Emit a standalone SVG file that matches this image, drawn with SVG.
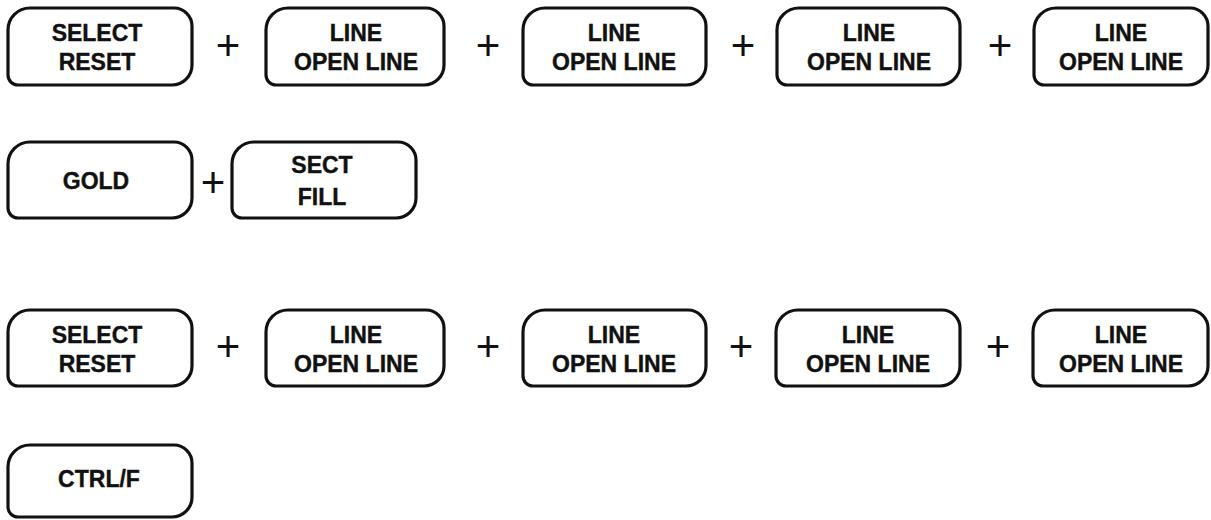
<svg xmlns="http://www.w3.org/2000/svg" width="1211" height="520" viewBox="0 0 1211 520">
<style>
.key{fill:none;stroke:#111;stroke-width:3.2;stroke-linejoin:round}
.lbl{font-family:"Liberation Sans",Arial,sans-serif;font-weight:bold;font-size:23px;fill:#111;stroke:#111;stroke-width:0.4;text-anchor:middle}
.plus{font-family:"Liberation Sans",Arial,sans-serif;font-size:42px;fill:#111;text-anchor:middle}
</style>
<rect width="1211" height="520" fill="#fff"/>
<g id="row1">
<g id="r1k1"><path class="key" d="M8,30 A22,22 0 0 1 30,8 H174 A18,18 0 0 1 192,26 V65 A20,20 0 0 1 172,85 H18 A10,10 0 0 1 8,75 Z"/><text class="lbl" x="97" y="41">SELECT</text><text class="lbl" x="97" y="70">RESET</text></g>
<g id="r1k2"><path class="key" d="M266,30 A22,22 0 0 1 288,8 H426 A18,18 0 0 1 444,26 V65 A20,20 0 0 1 424,85 H276 A10,10 0 0 1 266,75 Z"/><text class="lbl" x="356" y="41">LINE</text><text class="lbl" x="356" y="70">OPEN LINE</text></g>
<g id="r1k3"><path class="key" d="M523,30 A22,22 0 0 1 545,8 H688 A18,18 0 0 1 706,26 V65 A20,20 0 0 1 686,85 H533 A10,10 0 0 1 523,75 Z"/><text class="lbl" x="614" y="41">LINE</text><text class="lbl" x="614" y="70">OPEN LINE</text></g>
<g id="r1k4"><path class="key" d="M777,30 A22,22 0 0 1 799,8 H942 A18,18 0 0 1 960,26 V65 A20,20 0 0 1 940,85 H787 A10,10 0 0 1 777,75 Z"/><text class="lbl" x="869" y="41">LINE</text><text class="lbl" x="869" y="70">OPEN LINE</text></g>
<g id="r1k5"><path class="key" d="M1034,30 A22,22 0 0 1 1056,8 H1190 A18,18 0 0 1 1208,26 V65 A20,20 0 0 1 1188,85 H1044 A10,10 0 0 1 1034,75 Z"/><text class="lbl" x="1121" y="41">LINE</text><text class="lbl" x="1121" y="70">OPEN LINE</text></g>
</g>
<g id="row2">
<g id="r2k1"><path class="key" d="M8,164 A22,22 0 0 1 30,142 H174 A18,18 0 0 1 192,160 V198 A20,20 0 0 1 172,218 H18 A10,10 0 0 1 8,208 Z"/><text class="lbl" x="96" y="189">GOLD</text></g>
<g id="r2k2"><path class="key" d="M232,164 A22,22 0 0 1 254,142 H398 A18,18 0 0 1 416,160 V198 A20,20 0 0 1 396,218 H242 A10,10 0 0 1 232,208 Z"/><text class="lbl" x="322" y="173">SECT</text><text class="lbl" x="322" y="205">FILL</text></g>
</g>
<g id="row3">
<g id="r3k1"><path class="key" d="M8,332 A22,22 0 0 1 30,310 H174 A18,18 0 0 1 192,328 V366 A20,20 0 0 1 172,386 H18 A10,10 0 0 1 8,376 Z"/><text class="lbl" x="97" y="343">SELECT</text><text class="lbl" x="97" y="372">RESET</text></g>
<g id="r3k2"><path class="key" d="M266,332 A22,22 0 0 1 288,310 H426 A18,18 0 0 1 444,328 V366 A20,20 0 0 1 424,386 H276 A10,10 0 0 1 266,376 Z"/><text class="lbl" x="356" y="343">LINE</text><text class="lbl" x="356" y="372">OPEN LINE</text></g>
<g id="r3k3"><path class="key" d="M523,332 A22,22 0 0 1 545,310 H688 A18,18 0 0 1 706,328 V366 A20,20 0 0 1 686,386 H533 A10,10 0 0 1 523,376 Z"/><text class="lbl" x="614" y="343">LINE</text><text class="lbl" x="614" y="372">OPEN LINE</text></g>
<g id="r3k4"><path class="key" d="M776,332 A22,22 0 0 1 798,310 H942 A18,18 0 0 1 960,328 V366 A20,20 0 0 1 940,386 H786 A10,10 0 0 1 776,376 Z"/><text class="lbl" x="868" y="343">LINE</text><text class="lbl" x="868" y="372">OPEN LINE</text></g>
<g id="r3k5"><path class="key" d="M1033,332 A22,22 0 0 1 1055,310 H1190 A18,18 0 0 1 1208,328 V366 A20,20 0 0 1 1188,386 H1043 A10,10 0 0 1 1033,376 Z"/><text class="lbl" x="1121" y="343">LINE</text><text class="lbl" x="1121" y="372">OPEN LINE</text></g>
</g>
<g id="row4">
<g id="r4k1"><path class="key" d="M8,467 A22,22 0 0 1 30,445 H174 A18,18 0 0 1 192,463 V497 A20,20 0 0 1 172,517 H18 A10,10 0 0 1 8,507 Z"/><text class="lbl" x="99" y="487">CTRL/F</text></g>
</g>
<g id="connectors">
<text class="plus" x="228" y="60">+</text>
<text class="plus" x="488" y="60">+</text>
<text class="plus" x="743" y="60">+</text>
<text class="plus" x="1000" y="60">+</text>
<text class="plus" x="213" y="197">+</text>
<text class="plus" x="228" y="361">+</text>
<text class="plus" x="488" y="361">+</text>
<text class="plus" x="741" y="361">+</text>
<text class="plus" x="998" y="361">+</text>
</g>
</svg>
